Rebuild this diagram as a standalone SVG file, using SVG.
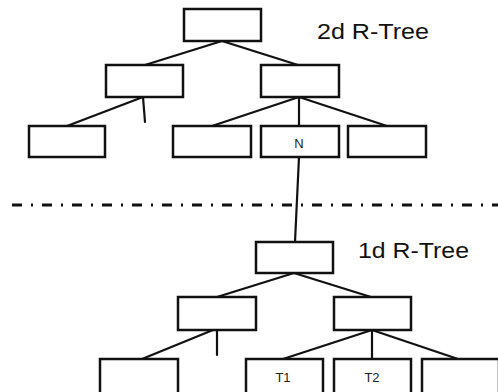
<svg xmlns="http://www.w3.org/2000/svg" width="498" height="392" viewBox="0 0 498 392">
  <style>
    .box { fill: #ffffff; stroke: #111111; stroke-width: 2.5; }
    .edge { stroke: #111111; stroke-width: 2.2; fill: none; stroke-linecap: round; }
    .title { font-family: "Liberation Sans", Arial, sans-serif; font-size: 22px; fill: #111111; }
    .lbl { font-family: "Liberation Sans", Arial, sans-serif; font-size: 13px; fill: #222222; text-anchor: middle; }
    .sep { stroke: #111111; stroke-width: 3; stroke-dasharray: 10 9 2 9; fill: none; }
  </style>
  <rect width="498" height="392" fill="#ffffff"/>

  <!-- connectors -->
  <g id="connectors">
    <!-- 2d tree -->
    <line class="edge" x1="222" y1="41" x2="145" y2="65"/>
    <line class="edge" x1="222" y1="41" x2="298" y2="65"/>
    <line class="edge" x1="143" y1="97" x2="67" y2="126"/>
    <line class="edge" x1="143" y1="97" x2="145" y2="122"/>
    <line class="edge" x1="299" y1="97" x2="212" y2="126"/>
    <line class="edge" x1="299" y1="97" x2="299" y2="126"/>
    <line class="edge" x1="299" y1="97" x2="387" y2="126"/>
    <!-- link from N down to the 1d tree -->
    <line class="edge" x1="299" y1="157" x2="295" y2="242"/>
    <!-- 1d tree -->
    <line class="edge" x1="294" y1="273" x2="217" y2="297"/>
    <line class="edge" x1="294" y1="273" x2="371" y2="297"/>
    <line class="edge" x1="213" y1="330" x2="142" y2="359"/>
    <line class="edge" x1="217" y1="330" x2="217" y2="355"/>
    <line class="edge" x1="372" y1="330" x2="283" y2="359"/>
    <line class="edge" x1="372" y1="330" x2="372" y2="359"/>
    <line class="edge" x1="372" y1="330" x2="458" y2="359"/>
  </g>

  <!-- separator between the two trees -->
  <line class="sep" x1="12" y1="205" x2="498" y2="205"/>

  <!-- 2d R-Tree nodes -->
  <g id="r2-root"><rect class="box" x="184" y="9" width="77" height="32"/></g>
  <g id="r2-a"><rect class="box" x="106" y="65" width="77" height="32"/></g>
  <g id="r2-b"><rect class="box" x="261" y="65" width="78" height="32"/></g>
  <g id="r2-a1"><rect class="box" x="29" y="126" width="76" height="31"/></g>
  <g id="r2-b1"><rect class="box" x="173" y="126" width="78" height="31"/></g>
  <g id="r2-n"><rect class="box" x="261" y="126" width="78" height="31"/><text class="lbl" x="299" y="148">N</text></g>
  <g id="r2-b3"><rect class="box" x="348" y="126" width="78" height="31"/></g>
  <text class="title" x="317" y="39" textLength="112" lengthAdjust="spacingAndGlyphs">2d R-Tree</text>

  <!-- 1d R-Tree nodes -->
  <g id="r1-root"><rect class="box" x="256" y="242" width="77" height="31"/></g>
  <g id="r1-a"><rect class="box" x="178" y="297" width="78" height="33"/></g>
  <g id="r1-b"><rect class="box" x="334" y="297" width="77" height="33"/></g>
  <g id="r1-a1"><rect class="box" x="100" y="359" width="78" height="40"/></g>
  <g id="r1-t1"><rect class="box" x="246" y="359" width="77" height="40"/><text class="lbl" x="283" y="382">T1</text></g>
  <g id="r1-t2"><rect class="box" x="334" y="359" width="77" height="40"/><text class="lbl" x="372" y="382">T2</text></g>
  <g id="r1-b3"><rect class="box" x="422" y="359" width="77" height="40"/></g>
  <text class="title" x="358" y="258" textLength="111" lengthAdjust="spacingAndGlyphs">1d R-Tree</text>
</svg>
